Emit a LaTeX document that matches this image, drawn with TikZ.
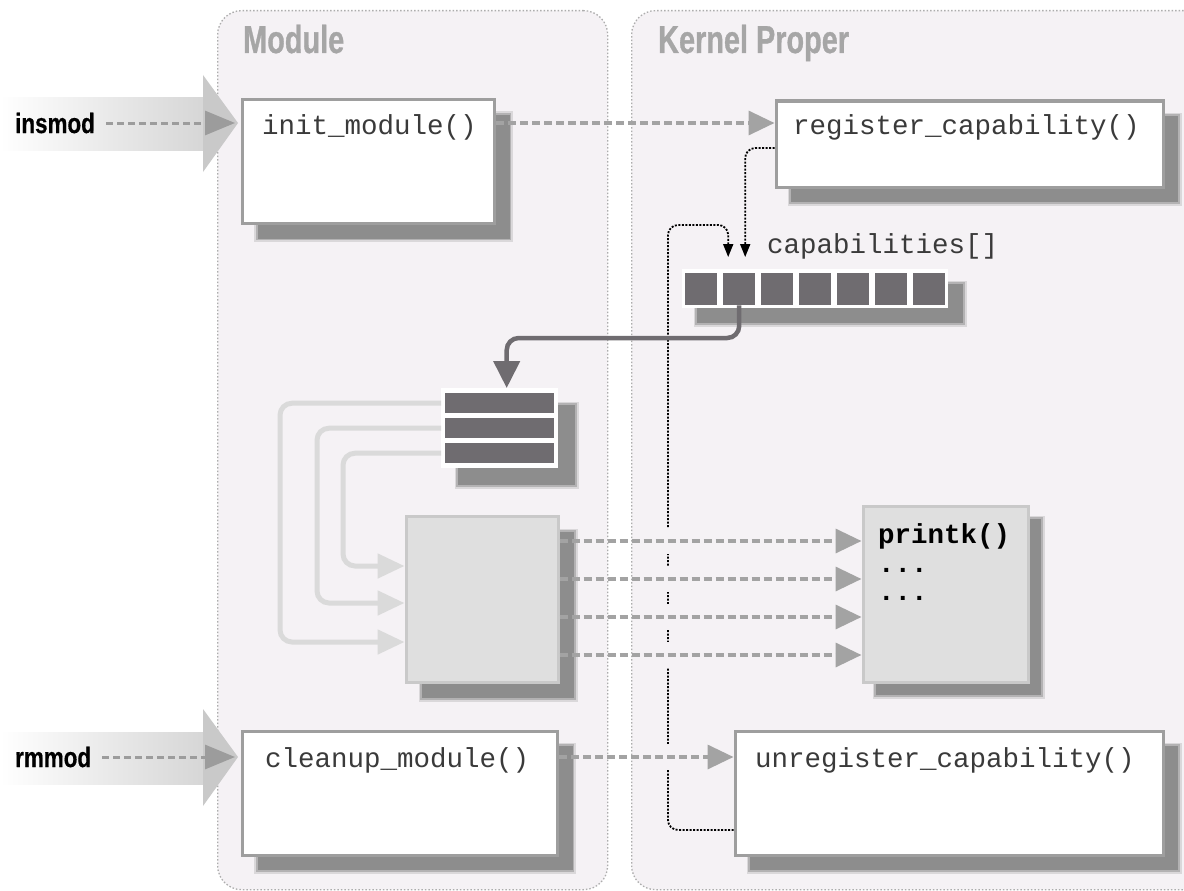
\documentclass[tikz,border=0pt]{standalone}
\usepackage{fontspec}
\setmonofont{Liberation Mono}
\newfontfamily\titlefont{Liberation Sans}[FakeStretch=0.74,FakeBold=0.8]
\newfontfamily\cmdfont{Liberation Sans}[FakeStretch=0.8,FakeBold=0.5]
\usetikzlibrary{arrows.meta,shadows}
\definecolor{panelbg}{HTML}{F5F2F5}
\definecolor{panelbd}{HTML}{ADADAD}
\definecolor{titlegray}{HTML}{A6A6A6}
\definecolor{boxbd}{HTML}{9E9E9E}
\definecolor{shadowc}{HTML}{8D8D8D}
\definecolor{dashc}{HTML}{A3A3A3}
\definecolor{darkc}{HTML}{6F6C70}
\definecolor{lightc}{HTML}{DADADA}
\definecolor{lightfill}{HTML}{DFDFDF}
\definecolor{lightbd}{HTML}{C9C9C9}
\definecolor{headc}{HTML}{C9C9C9}
\definecolor{bandc}{HTML}{D6D6D6}
\definecolor{textc}{HTML}{3A3A3A}
\definecolor{fatdashc}{HTML}{9C9C9C}
\begin{document}
\begin{tikzpicture}[x=1pt,y=-1pt,
 panel/.style={draw=panelbd, line width=1.3pt, dash pattern=on 1.5pt off 2pt, fill=panelbg, rounded corners=24pt, anchor=north west, inner sep=0pt, minimum height=879pt},
 shadowed/.style={
   general shadow={shadow xshift=#1, shadow yshift=-#1, fill=shadowc, draw=shadowc, line width=7pt, opacity=0.25},
   general shadow={shadow xshift=#1, shadow yshift=-#1, fill=shadowc, draw=shadowc, line width=3.5pt, opacity=0.5},
   general shadow={shadow xshift=#1, shadow yshift=-#1, fill=shadowc, draw=none, opacity=1}},
 shadowed/.default=15pt,
 fbox/.style={draw=boxbd, line width=3pt, fill=white, anchor=north west, inner sep=0pt, shadowed},
 gbox/.style={draw=lightbd, line width=3pt, fill=lightfill, anchor=north west, inner sep=0pt},
 mono/.style={font=\ttfamily\fontsize{27.5}{27.5}\selectfont, text=textc, inner sep=0pt, anchor=base west},
 monob/.style={font=\ttfamily\bfseries\fontsize{27.5}{27.5}\selectfont, text=black, inner sep=0pt, anchor=base west},
 title/.style={font=\titlefont\bfseries\fontsize{39}{39}\selectfont, text=titlegray, inner sep=0pt, anchor=base west},
 cmd/.style={font=\cmdfont\bfseries\fontsize{28}{28}\selectfont, text=black, inner sep=0pt, anchor=west},
 dasharrow/.style={draw=dashc, line width=3.5pt, dash pattern=on 8pt off 4pt, -{Triangle[length=26pt,width=24pt]}},
 fatdash/.style={draw=fatdashc, line width=3pt, dash pattern=on 7pt off 4pt, -{Triangle[length=30pt,width=24pt]}},
 dotarrow/.style={draw=black, line width=1.8pt, dash pattern=on 2pt off 1.5pt, rounded corners=10pt, -{Triangle[length=13pt,width=10pt]}},
 lightarrow/.style={draw=lightc, line width=5pt, rounded corners=12pt, -{Triangle[length=27pt,width=24pt]}},
 darkarrow/.style={draw=darkc, line width=4.5pt, rounded corners=12pt, -{Triangle[length=27pt,width=26pt]}},
 cell/.style={fill=darkc, anchor=north west, inner sep=0pt, minimum width=32pt, minimum height=32pt},
 bar/.style={fill=darkc, anchor=north west, inner sep=0pt, minimum width=109pt, minimum height=20pt},
]
\useasboundingbox (0,0) rectangle (1184,891);
\fill[white] (0,0) rectangle (1184,891);

% panels
\node[panel, minimum width=390pt] (modp) at (217,10) {};
\node[panel, minimum width=590pt] (kerp) at (631,10) {};
\node[title] (modt) at (243,53) {Module};
\node[title] (kert) at (658,53) {Kernel Proper};

% fat entry arrows
\fill[left color=white, right color=bandc] (0,98) rectangle (205,150);
\fill[headc] (203,75) -- (238,123) -- (203,172) -- cycle;
\fill[left color=white, right color=bandc] (0,732) rectangle (205,784);
\fill[headc] (203,709) -- (238,757) -- (203,806) -- cycle;
\node[cmd] (insmod) at (15,123) {insmod};
\node[cmd] (rmmod) at (15,757) {rmmod};

% boxes
\node[fbox, minimum width=252pt, minimum height=124pt] (init) at (241,98) {};
\node[mono] (initT) at (262,135) {init\_module()};
\node[fbox, minimum width=387pt, minimum height=86pt] (reg) at (774.5,99.5) {};
\node[mono] (regT) at (793,135) {register\_capability()};
\node[fbox, minimum width=315pt, minimum height=124pt] (clean) at (241,729.5) {};
\node[mono] (cleanT) at (265,767) {cleanup\_module()};
\node[fbox, minimum width=428pt, minimum height=124pt] (unreg) at (733.5,729.5) {};
\node[mono] (unregT) at (755,767) {unregister\_capability()};

% capabilities array
\node[mono] (capT) at (767,253) {capabilities[]};
\node[fill=white, anchor=north west, inner sep=0pt, minimum width=266pt, minimum height=39pt, shadowed] (arr) at (682,269) {};
\foreach \i in {0,...,6} \node[cell] (c\i) at (685+38*\i,273) {};

% stack of bars
\node[fill=white, anchor=north west, inner sep=0pt, minimum width=117pt, minimum height=80pt, shadowed=17pt] (stk) at (441,388) {};
\node[bar] (b1) at (445,393) {};
\node[bar] (b2) at (445,418) {};
\node[bar] (b3) at (445,443) {};

% grey boxes
\node[gbox, minimum width=152pt, minimum height=166pt, shadowed=16pt] (big) at (404.5,514.5) {};
\node[gbox, minimum width=165pt, minimum height=176pt, shadowed=13pt] (pk) at (861.5,504.5) {};
\node[monob] (pkT) at (878,543) {printk()};
\node[monob] (pkD1) at (878,572) {...};
\node[monob] (pkD2) at (878,600) {...};

% coordinates
\coordinate (y1) at (0,123);
\coordinate (y2) at (0,757);
\coordinate (p1) at (0,541);
\coordinate (p2) at (0,579);
\coordinate (p3) at (0,617);
\coordinate (p4) at (0,655);
\coordinate (l1) at (280,642);
\coordinate (l2) at (317,603);
\coordinate (l3) at (343,566);
\coordinate (ds1) at (0,148);
\coordinate (dlb) at (668,830);
\coordinate (dlt) at (668,225);
\coordinate (dk) at (0,338);

% light connectors
\draw[lightarrow] (stk.west |- b1.west) -| (l1) -- (big.west |- l1);
\draw[lightarrow] (stk.west |- b2.west) -| (l2) -- (big.west |- l2);
\draw[lightarrow] (stk.west |- b3.west) -| (l3) -- (big.west |- l3);

% dotted connectors
\draw[dotarrow] (reg.west |- ds1) -| ([xshift=6pt,yshift=16pt]c1.north);
\draw[dotarrow] (unreg.west |- dlb) -- (dlb) -- (dlt) -| ([xshift=-11pt,yshift=16pt]c1.north);
\foreach \yy in {541,579,617,655,757} \fill[panelbg] (662,\yy-13) rectangle (674,\yy+13);

% dashed connectors
\draw[fatdash] ([xshift=11pt]insmod.east) -- ([xshift=-6pt]init.west |- insmod.east);
\draw[fatdash] ([xshift=11pt]rmmod.east) -- ([xshift=-6pt]clean.west |- rmmod.east);
\draw[dasharrow] (init.east |- y1) -- (reg.west |- y1);
\draw[dasharrow] (clean.east |- y2) -- (unreg.west |- y2);
\draw[dasharrow] (big.east |- p1) -- (pk.west |- p1);
\draw[dasharrow] (big.east |- p2) -- (pk.west |- p2);
\draw[dasharrow] (big.east |- p3) -- (pk.west |- p3);
\draw[dasharrow] (big.east |- p4) -- (pk.west |- p4);

% array to stack
\draw[darkarrow] (c1.south) -- (c1.south |- dk) -| ([xshift=7pt]stk.north);
\end{tikzpicture}
\end{document}
